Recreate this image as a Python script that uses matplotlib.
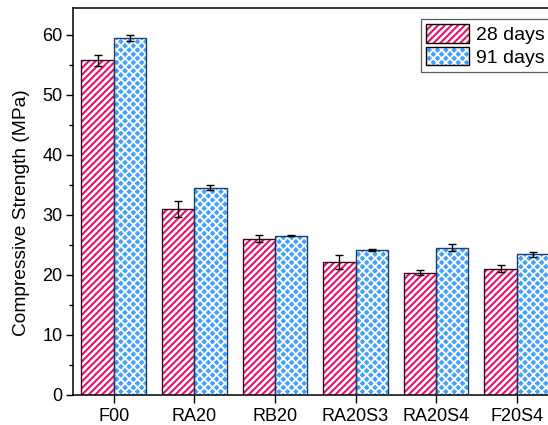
import matplotlib
matplotlib.use("Agg")
import matplotlib.pyplot as plt
from matplotlib.ticker import MultipleLocator
from matplotlib.patches import Patch
from matplotlib.legend_handler import HandlerTuple
import numpy as np

categories = ["F00", "RA20", "RB20", "RA20S3", "RA20S4", "F20S4"]
days28 = [55.7, 30.9, 26.0, 22.1, 20.3, 21.0]
days28_err = [0.95, 1.35, 0.65, 1.1, 0.4, 0.65]
days91 = [59.5, 34.5, 26.45, 24.1, 24.5, 23.4]
days91_err = [0.5, 0.4, 0.1, 0.2, 0.65, 0.4]

pink = "#EC0B6C"
pink_edge = "#3a0a20"
blue = "#43A2FF"
blue_edge = "#1a3f73"
pink_hatch = "/////"
blue_hatch = "xxxx"
pink_hlw = 1.9
blue_hlw = 1.3

plt.rcParams["font.family"] = ["Liberation Sans", "DejaVu Sans"]

W, H = 548, 425
fig = plt.figure(figsize=(W / 100, H / 100), dpi=100)
left_px, right_px, bottom_px, top_px = 73.4, 557.0, 394.5, 7.5
ax = fig.add_axes([left_px / W, (H - bottom_px) / H,
                   (right_px - left_px) / W, (bottom_px - top_px) / H])

x = np.arange(1, len(categories) + 1)
bw = 0.4


def hatched(patches, lw):
    for p in patches:
        if hasattr(p, "set_hatch_linewidth"):
            p.set_hatch_linewidth(lw)


# filled hatched bars (hatch drawn in white), then outlines on top
with plt.rc_context({"hatch.linewidth": pink_hlw}):
    b28 = ax.bar(x - bw / 2, days28, bw, color=pink, edgecolor="white",
                 hatch=pink_hatch, linewidth=0, zorder=2)
hatched(b28, pink_hlw)
ax.bar(x - bw / 2, days28, bw, fill=False, edgecolor=pink_edge, linewidth=1.0,
       zorder=3)
with plt.rc_context({"hatch.linewidth": blue_hlw}):
    b91 = ax.bar(x + bw / 2, days91, bw, color=blue, edgecolor="white",
                 hatch=blue_hatch, linewidth=0, zorder=2)
hatched(b91, blue_hlw)
ax.bar(x + bw / 2, days91, bw, fill=False, edgecolor=blue_edge, linewidth=1.0,
       zorder=3)

ax.errorbar(x - bw / 2, days28, yerr=days28_err, fmt="none", ecolor="black",
            elinewidth=1.0, capsize=2.8, capthick=1.0, zorder=4)
ax.errorbar(x + bw / 2, days91, yerr=days91_err, fmt="none", ecolor="black",
            elinewidth=1.0, capsize=2.8, capthick=1.0, zorder=4)

ax.set_xlim(0.5, 6.5)
ax.set_ylim(0, 64.5)
ax.set_xticks(x)
ax.set_xticklabels(categories, fontsize=13)
ax.yaxis.set_major_locator(MultipleLocator(10))
ax.yaxis.set_minor_locator(MultipleLocator(5))
ax.tick_params(axis="y", which="major", direction="out", length=5, width=1,
               labelsize=13, pad=3)
ax.tick_params(axis="y", which="minor", direction="out", length=3, width=1)
ax.tick_params(axis="x", which="major", direction="out", length=6, width=1,
               labelsize=13, pad=4)
for s in ax.spines.values():
    s.set_linewidth(1.1)

ax.set_ylabel("Compressive Strength (MPa)", fontsize=13.8)
ax.yaxis.set_label_coords(-0.09, 0.47)

h28 = (Patch(facecolor=pink, edgecolor="white", hatch=pink_hatch, linewidth=0),
       Patch(fill=False, edgecolor="black", linewidth=1.0))
h91 = (Patch(facecolor=blue, edgecolor="white", hatch=blue_hatch, linewidth=0),
       Patch(fill=False, edgecolor="black", linewidth=1.0))
leg = fig.legend([h28, h91], ["28 days", "91 days"], loc="upper left",
                 bbox_to_anchor=(421 / W, 1 - 19 / H), fontsize=14,
                 handler_map={tuple: HandlerTuple(ndivide=1, pad=0)},
                 frameon=True, fancybox=False, edgecolor="#333333",
                 handlelength=2.2, handleheight=1.1, handletextpad=0.4,
                 borderpad=0.25, labelspacing=0.15, borderaxespad=0)
leg.get_frame().set_linewidth(0.9)
for p in leg.get_patches():
    if p.get_hatch() == pink_hatch:
        hatched([p], pink_hlw)
    elif p.get_hatch() == blue_hatch:
        hatched([p], blue_hlw)

fig.savefig("out.png", dpi=100)
